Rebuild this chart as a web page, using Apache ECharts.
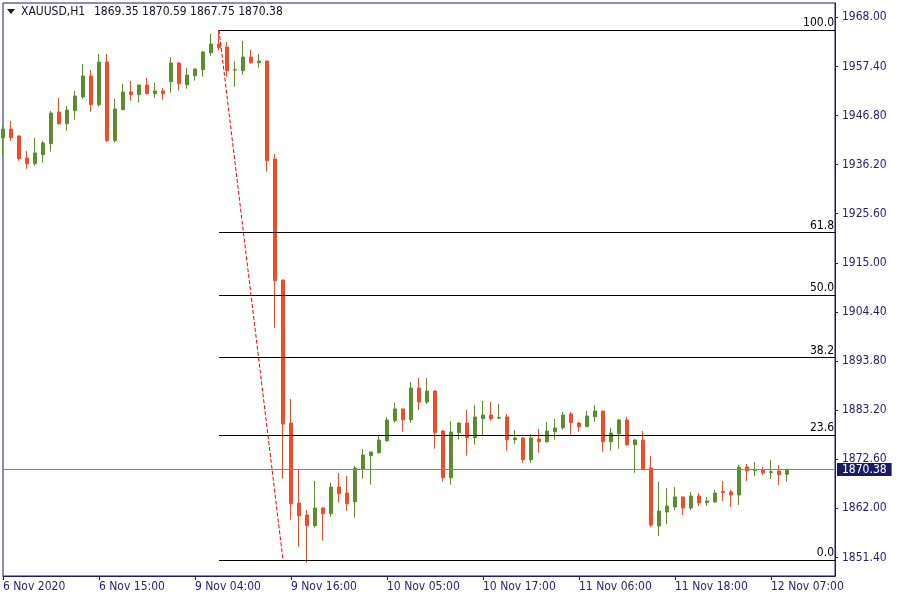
<!DOCTYPE html>
<html><head><meta charset="utf-8">
<script src="https://cdn.jsdelivr.net/npm/echarts@6/dist/echarts.min.js"></script>
<style>html,body{margin:0;padding:0;background:#fff}#c{width:900px;height:600px}</style>
</head><body><div id="c"></div>
<script>
const symbolName = 'XAUUSD,H1';
const tickLabels = ['6 Nov 2020','6 Nov 15:00','9 Nov 04:00','9 Nov 16:00','10 Nov 05:00','10 Nov 17:00','11 Nov 06:00','11 Nov 18:00','12 Nov 07:00'];
const tickStep = 12;
const barSlots = 105;
const opens = [1942.01,1943.89,1942.38,1937.63,1936.40,1938.34,1940.72,1947.56,1945.03,1947.84,
1950.80,1955.33,1949.14,1958.35,1941.36,1948.06,1951.88,1951.29,1953.39,1951.51,
1952.09,1954.10,1958.14,1953.45,1955.40,1956.69,1960.36,1962.24,1961.59,1956.60,
1956.47,1959.43,1958.20,1958.57,1937.41,1911.29,1880.41,1863.14,1860.55,1858.24,
1862.06,1860.83,1866.59,1865.30,1863.42,1870.48,1873.36,1874.00,1876.59,1880.91,
1883.44,1881.12,1887.97,1884.94,1887.32,1878.68,1868.60,1878.32,1880.41,1877.24,
1881.34,1882.14,1881.45,1881.71,1876.80,1877.17,1872.49,1876.95,1876.37,1878.53,
1879.40,1882.35,1880.41,1879.61,1881.77,1883.00,1876.37,1878.10,1881.06,1875.73,
1876.74,1870.70,1858.17,1861.20,1862.28,1864.44,1862.06,1864.65,1863.20,1863.35,
1865.60,1865.52,1864.87,1870.91,1870.10,1870.27,1869.70,1870.05,1869.35];
const highs = [1944.75,1945.62,1942.50,1939.14,1941.95,1941.30,1947.77,1950.58,1948.85,1952.09,
1957.92,1956.63,1960.08,1960.08,1950.37,1953.60,1954.25,1953.40,1954.90,1953.82,
1952.74,1959.43,1958.30,1957.06,1956.90,1960.73,1964.40,1965.26,1962.67,1958.57,
1962.89,1960.94,1960.08,1958.60,1938.49,1911.30,1885.59,1870.42,1861.63,1867.89,
1862.28,1867.52,1869.62,1868.97,1871.13,1874.80,1874.20,1877.61,1881.71,1884.73,
1883.50,1889.26,1890.13,1890.13,1887.54,1878.90,1880.84,1880.62,1883.22,1884.30,
1885.16,1884.94,1884.51,1882.35,1878.90,1877.39,1878.03,1879.11,1880.62,1881.27,
1882.79,1882.79,1880.62,1883.00,1884.30,1883.05,1879.33,1881.27,1881.71,1876.96,
1878.68,1873.29,1867.68,1866.38,1866.59,1864.50,1865.52,1865.30,1864.44,1865.94,
1867.89,1865.94,1871.34,1871.56,1871.99,1870.91,1872.42,1871.34,1870.59];
const lows = [1938.12,1941.36,1937.04,1935.32,1935.96,1936.61,1938.99,1944.82,1943.52,1945.90,
1950.37,1947.63,1948.70,1941.15,1940.93,1948.00,1949.99,1949.56,1951.40,1950.65,
1950.22,1951.73,1952.16,1952.59,1954.32,1955.18,1959.71,1960.79,1955.18,1953.02,
1955.61,1957.99,1957.12,1934.67,1900.92,1868.39,1859.53,1853.70,1850.25,1857.81,
1854.99,1860.19,1863.20,1861.48,1859.97,1868.39,1867.08,1873.78,1876.37,1880.48,
1878.53,1880.48,1883.22,1884.51,1874.87,1867.74,1867.08,1876.80,1873.36,1875.73,
1877.67,1880.91,1881.34,1874.43,1875.94,1871.83,1871.83,1873.99,1876.15,1876.80,
1878.97,1877.88,1878.53,1879.60,1880.70,1874.21,1874.43,1874.87,1875.51,1869.68,
1870.40,1857.96,1856.02,1858.61,1861.63,1860.55,1861.63,1862.49,1862.49,1863.30,
1863.57,1862.28,1862.71,1867.89,1868.97,1869.18,1868.32,1867.02,1867.75];
const closes = [1943.89,1942.01,1937.48,1936.40,1938.71,1940.87,1947.34,1945.03,1947.99,1951.01,
1955.33,1949.14,1958.35,1941.36,1948.21,1951.88,1951.29,1953.39,1951.51,1952.09,
1951.51,1958.14,1953.67,1955.55,1956.84,1960.51,1962.24,1961.44,1956.47,1956.70,
1959.43,1958.20,1958.57,1937.04,1911.14,1880.19,1862.98,1860.40,1858.24,1862.06,
1860.83,1866.59,1865.15,1862.98,1870.70,1873.50,1874.15,1876.74,1881.06,1883.44,
1881.12,1887.97,1884.94,1887.32,1878.32,1868.60,1878.47,1880.41,1877.24,1881.71,
1882.14,1881.34,1881.60,1876.80,1877.17,1872.49,1877.17,1876.37,1878.68,1879.33,
1882.14,1880.48,1879.61,1881.92,1883.00,1876.37,1878.25,1881.06,1875.73,1876.74,
1870.42,1858.39,1861.41,1862.49,1864.44,1862.06,1864.65,1863.14,1863.57,1865.30,
1865.40,1864.87,1870.91,1870.05,1870.30,1869.62,1869.90,1869.25,1870.38];
const priceTicks = [1851.40,1862.00,1872.60,1883.20,1893.80,1904.40,1915.00,1925.60,1936.20,1946.80,1957.40,1968.00];
const fibHigh = 1965.26, fibLow = 1850.82;
const fibStartBar = 27, fibEndBar = 35;
const fibRatios = [0.0, 23.6, 38.2, 50.0, 61.8, 100.0];

const FONT = "'DejaVu Sans Condensed','Noto Sans',sans-serif";
const AXIS = '#1c1a72';
const LABEL = '#241f6e';
const GREEN = '#5a8e2e';
const RED = '#f24b28';

const cats = [];
for (let i = 0; i < barSlots; i++) cats.push(i);
const candles = opens.map((o, i) => [o, closes[i], lows[i], highs[i]]);
const n = closes.length - 1;
const lastClose = closes[n];

const markData = [];
markData.push({
  yAxis: lastClose,
  lineStyle: {color: '#778899', width: 1, type: 'solid'},
  label: {show: true, position: 'end', formatter: lastClose.toFixed(2), color: '#fff',
    backgroundColor: '#1a1a6a', padding: [1, 5, 0, 5], distance: 2, fontSize: 12, fontFamily: FONT}
});
fibRatios.forEach(r => {
  const lv = fibLow + r / 100 * (fibHigh - fibLow);
  markData.push([
    {coord: [fibStartBar, lv], lineStyle: {color: '#000', width: 1, type: 'solid'},
     label: {show: true, position: 'insideEndTop', formatter: r.toFixed(1), color: '#000',
       fontSize: 12, fontFamily: FONT, distance: [1, 1]}},
    {coord: [barSlots - 1, lv]}
  ]);
});
markData.push([
  {coord: [fibStartBar, fibHigh], lineStyle: {color: '#ff0000', width: 1, type: [4, 2]}, label: {show: false}},
  {coord: [fibEndBar, fibLow]}
]);

const chart = echarts.init(document.getElementById('c'), null, {renderer: 'canvas'});
chart.setOption({
  animation: false,
  backgroundColor: '#fff',
  grid: {left: 3, top: 3, width: 832, height: 573, show: true, borderColor: AXIS, borderWidth: 1, backgroundColor: 'transparent'},
  xAxis: {
    type: 'category', data: cats, boundaryGap: false,
    axisLine: {show: true, lineStyle: {color: AXIS}},
    axisTick: {show: true, length: 4, lineStyle: {color: AXIS}, interval: (i) => i % tickStep === 0},
    axisLabel: {show: true, interval: (i) => i % tickStep === 0 && i / tickStep < tickLabels.length,
      formatter: (v, i) => tickLabels[Math.round(i / tickStep)] || '',
      align: 'left', margin: 5, color: LABEL, fontSize: 12, fontFamily: FONT},
    splitLine: {show: false}
  },
  yAxis: {
    type: 'value', position: 'right', min: 1847.38, max: 1971.09, scale: true,
    axisLine: {show: true, lineStyle: {color: AXIS}},
    axisTick: {show: true, length: 3, lineStyle: {color: AXIS}, customValues: priceTicks},
    axisLabel: {show: true, customValues: priceTicks, formatter: v => v.toFixed(2),
      margin: 7, color: LABEL, fontSize: 12, fontFamily: FONT},
    splitLine: {show: false}
  },
  series: [
    {type: 'line', data: [], z: 1, silent: true,
     markLine: {symbol: ['none', 'none'], silent: true, animation: false, precision: 2, data: markData}},
    {type: 'candlestick', data: candles, barWidth: 4, z: 3, silent: true,
     itemStyle: {color: GREEN, color0: RED, borderColor: GREEN, borderColor0: RED, borderWidth: 1}}
  ],
  graphic: [
    {type: 'polygon', shape: {points: [[7, 9], [15, 9], [11, 14]]}, style: {fill: '#1a1a3a'}},
    {type: 'text', x: 21, y: 12, style: {text: symbolName, fill: '#101030', font: '12px ' + FONT, textVerticalAlign: 'middle'}},
    {type: 'text', x: 94, y: 12, style: {text: [opens[n], highs[n], lows[n], closes[n]].map(v => v.toFixed(2)).join(' '), fill: '#101030', font: '12px ' + FONT, textVerticalAlign: 'middle'}}
  ]
});
</script></body></html>
